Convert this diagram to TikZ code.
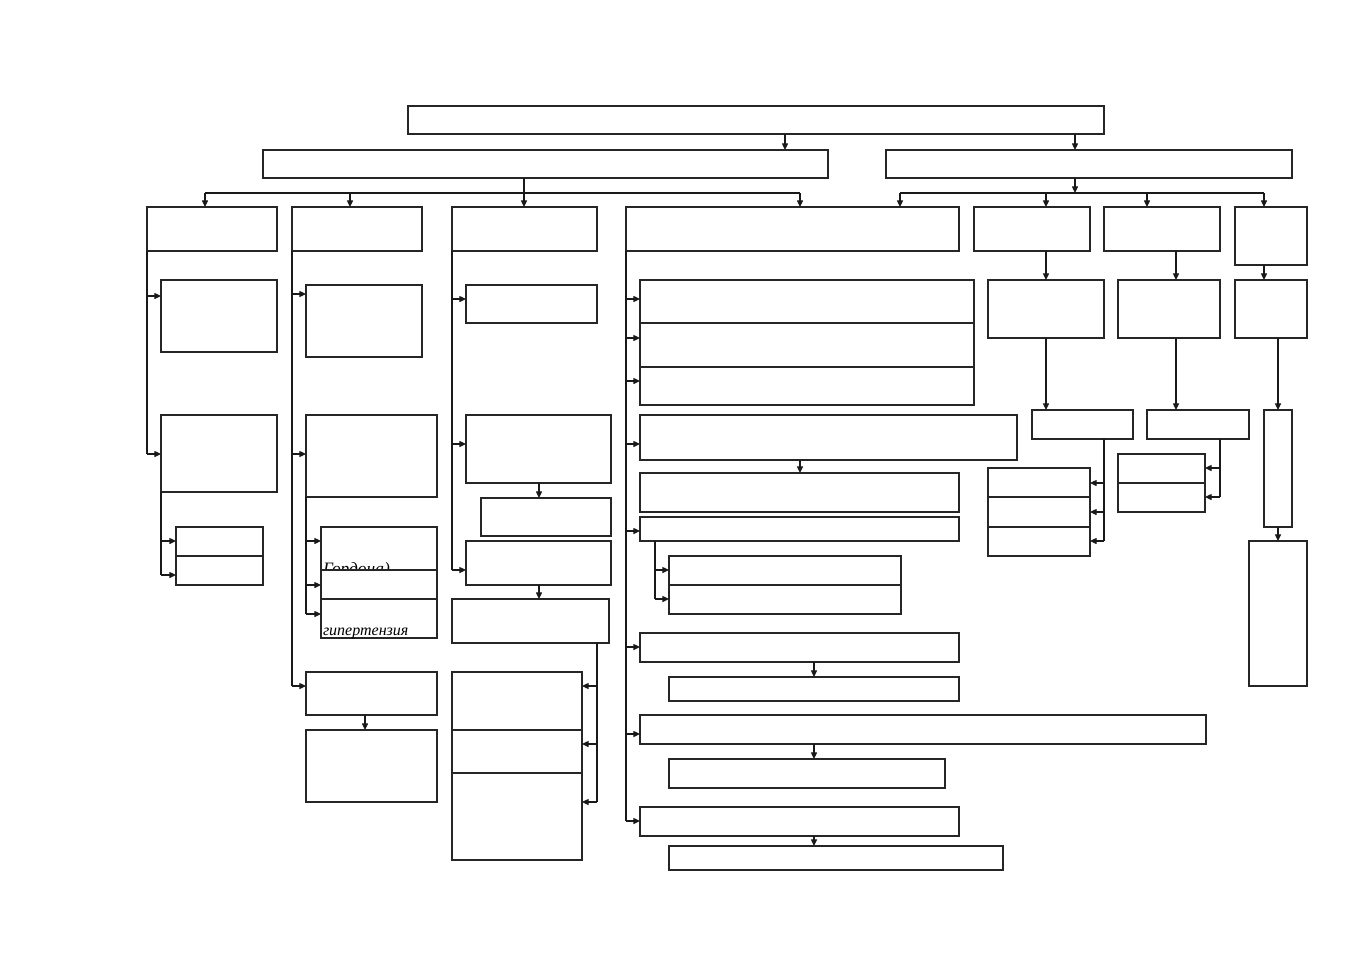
\documentclass[tikz,border=0pt]{standalone}
\usepackage{fontspec}
\setmainfont{Liberation Serif}
\usetikzlibrary{arrows.meta}
\newcommand\bx[5]{\node[box, minimum width={(#4-#2)*0.5pt}, minimum height={(#5-#3)*0.5pt}] (#1) at ({(#2+#4)/2},{(#3+#5)/2}) {};}
% vertical arrow from node #1 to node #2 at x=#3
\newcommand\varr[3]{\draw[arr] (#1.south -| #3,0) -- (#2.north -| #3,0);}
% horizontal arrow from line x=#1 at y=#2 to node #3 side #4
\newcommand\harr[4]{\draw[arr] (#1,#2) -- (#3.#4 |- 0,#2);}
\begin{document}
\begin{tikzpicture}[x=0.5pt,y=-0.5pt,
  box/.style={draw=black!85, fill=white, line width=0.55pt, inner sep=0pt, outer sep=0pt},
  ln/.style={draw=black!90, line width=0.55pt},
  arr/.style={ln, -{Triangle[length=3.3pt,width=3pt]}},
  txt/.style={inner sep=0pt, outer sep=0pt, font=\itshape\fontsize{8pt}{9pt}\selectfont}]
\useasboundingbox[fill=white] (0,0) rectangle (1357,960);
% top levels
\bx{T}{408}{106}{1104}{134}
\bx{L1}{263}{150}{828}{178}
\bx{R1}{886}{150}{1292}{178}
% third row
\bx{A}{147}{207}{277}{251}
\bx{B}{292}{207}{422}{251}
\bx{C}{452}{207}{597}{251}
\bx{D}{626}{207}{959}{251}
\bx{E}{974}{207}{1090}{251}
\bx{F}{1104}{207}{1220}{251}
\bx{G}{1235}{207}{1307}{265}
% column A
\bx{A1}{161}{280}{277}{352}
\bx{A2}{161}{415}{277}{492}
\bx{A3}{176}{527}{263}{556}
\bx{A4}{176}{556}{263}{585}
% column B
\bx{B1}{306}{285}{422}{357}
\bx{B2}{306}{415}{437}{497}
\bx{B3}{321}{527}{437}{570}
\node[txt, font=\itshape\fontsize{8.7pt}{9pt}\selectfont, anchor=base west] (tgor) at (323,574) {Гордона)};
\bx{B4}{321}{570}{437}{599}
\bx{B5}{321}{599}{437}{638}
\node[txt, anchor=base west] (tgip) at (323,635) {гипертензия};
\bx{B6}{306}{672}{437}{715}
\bx{B7}{306}{730}{437}{802}
% column C
\bx{C1}{466}{285}{597}{323}
\bx{C2}{466}{415}{611}{483}
\bx{C3}{481}{498}{611}{536}
\bx{C4}{466}{541}{611}{585}
\bx{C5}{452}{599}{609}{643}
\bx{C6}{452}{672}{582}{730}
\bx{C7}{452}{730}{582}{773}
\bx{C8}{452}{773}{582}{860}
% column D
\bx{D1}{640}{280}{974}{323}
\bx{D2}{640}{323}{974}{367}
\bx{D3}{640}{367}{974}{405}
\bx{D4}{640}{415}{1017}{460}
\bx{D5}{640}{473}{959}{512}
\bx{D6}{640}{517}{959}{541}
\bx{D7}{669}{556}{901}{585}
\bx{D8}{669}{585}{901}{614}
\bx{D9}{640}{633}{959}{662}
\bx{D10}{669}{677}{959}{701}
\bx{D11}{640}{715}{1206}{744}
\bx{D12}{669}{759}{945}{788}
\bx{D13}{640}{807}{959}{836}
\bx{D14}{669}{846}{1003}{870}
% columns E, F, G
\bx{E1}{988}{280}{1104}{338}
\bx{E2}{1032}{410}{1133}{439}
\bx{E3}{988}{468}{1090}{497}
\bx{E4}{988}{497}{1090}{527}
\bx{E5}{988}{527}{1090}{556}
\bx{F1}{1118}{280}{1220}{338}
\bx{F2}{1147}{410}{1249}{439}
\bx{F3}{1118}{454}{1205}{483}
\bx{F4}{1118}{483}{1205}{512}
\bx{G1}{1235}{280}{1307}{338}
\bx{G2}{1264}{410}{1292}{527}
\bx{G3}{1249}{541}{1307}{686}
% ---- connectors ----
\varr{T}{L1}{785}
\varr{T}{R1}{1075}
\varr{L1}{C}{524}
\coordinate (bL1) at (205,193);
\coordinate (bL2) at (800,193);
\draw[ln] (bL1) -- (bL2);
\draw[arr] (bL1) -- (A.north -| bL1);
\draw[arr] (bL1 -| 350,0) -- (B.north -| 350,0);
\draw[arr] (bL2) -- (D.north -| bL2);
\coordinate (bR0) at (1075,193);
\coordinate (bR1) at (900,193);
\coordinate (bR2) at (1264,193);
\draw[arr] (R1.south -| bR0) -- (bR0);
\draw[ln] (bR1) -- (bR2);
\draw[arr] (bR1) -- (D.north -| bR1);
\draw[arr] (bR1 -| 1046,0) -- (E.north -| 1046,0);
\draw[arr] (bR1 -| 1147,0) -- (F.north -| 1147,0);
\draw[arr] (bR2) -- (G.north -| bR2);
% column A
\draw[ln] (A.south west) -- (147,454);
\harr{147}{296}{A1}{west}
\harr{147}{454}{A2}{west}
\draw[ln] (A2.south west) -- (161,575);
\harr{161}{541}{A3}{west}
\harr{161}{575}{A4}{west}
% column B
\draw[ln] (B.south west) -- (292,686);
\harr{292}{294}{B1}{west}
\harr{292}{454}{B2}{west}
\harr{292}{686}{B6}{west}
\draw[ln] (B2.south west) -- (306,614);
\harr{306}{541}{B3}{west}
\harr{306}{585}{B4}{west}
\harr{306}{614}{B5}{west}
\varr{B6}{B7}{365}
% column C
\draw[ln] (C.south west) -- (452,570);
\harr{452}{299}{C1}{west}
\harr{452}{444}{C2}{west}
\harr{452}{570}{C4}{west}
\varr{C2}{C3}{539}
\varr{C4}{C5}{539}
\draw[ln] (C5.south -| 597,0) -- (597,802);
\harr{597}{686}{C6}{east}
\harr{597}{744}{C7}{east}
\harr{597}{802}{C8}{east}
% column D
\draw[ln] (D.south west) -- (626,821);
\harr{626}{299}{D1}{west}
\harr{626}{338}{D2}{west}
\harr{626}{381}{D3}{west}
\harr{626}{444}{D4}{west}
\harr{626}{531}{D6}{west}
\harr{626}{647}{D9}{west}
\harr{626}{734}{D11}{west}
\harr{626}{821}{D13}{west}
\varr{D4}{D5}{800}
\draw[ln] (D6.south -| 655,0) -- (655,599);
\harr{655}{570}{D7}{west}
\harr{655}{599}{D8}{west}
\varr{D9}{D10}{814}
\varr{D11}{D12}{814}
\varr{D13}{D14}{814}
% column E
\varr{E}{E1}{1046}
\varr{E1}{E2}{1046}
\draw[ln] (E2.south -| 1104,0) -- (1104,541);
\harr{1104}{483}{E3}{east}
\harr{1104}{512}{E4}{east}
\harr{1104}{541}{E5}{east}
% column F
\varr{F}{F1}{1176}
\varr{F1}{F2}{1176}
\draw[ln] (F2.south -| 1220,0) -- (1220,497);
\harr{1220}{468}{F3}{east}
\harr{1220}{497}{F4}{east}
% column G
\varr{G}{G1}{1264}
\varr{G1}{G2}{1278}
\varr{G2}{G3}{1278}
\end{tikzpicture}
\end{document}
